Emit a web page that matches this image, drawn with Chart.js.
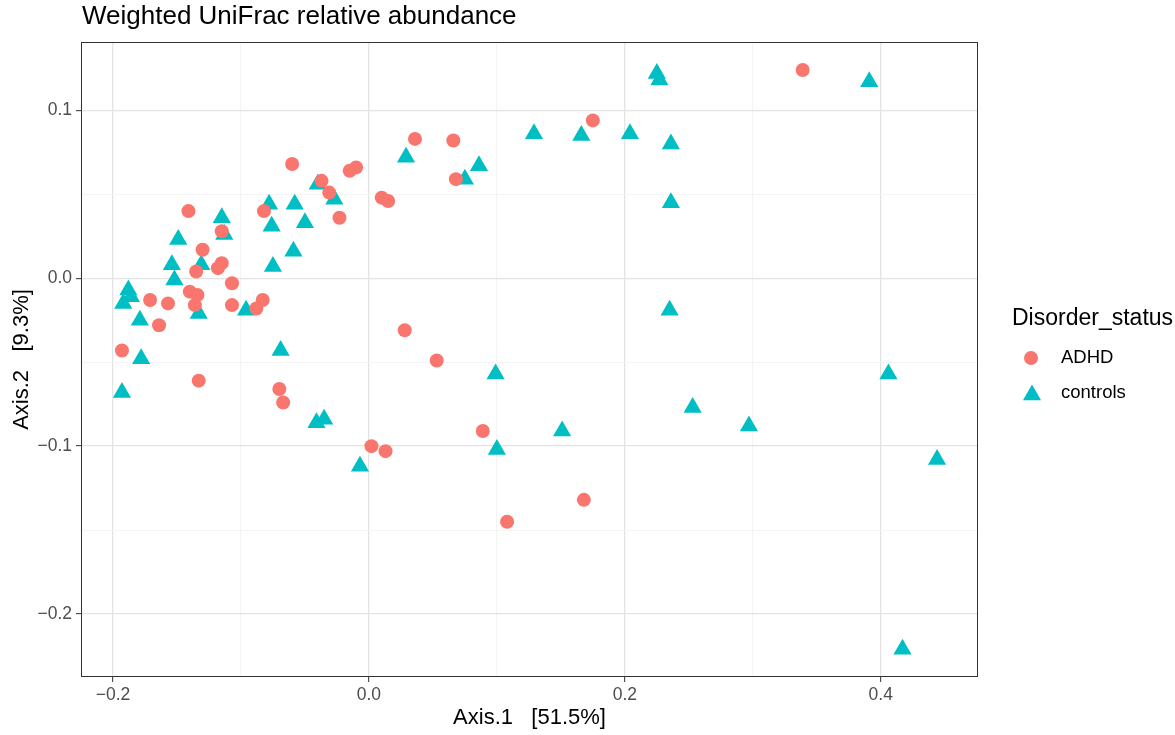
<!DOCTYPE html>
<html>
<head>
<meta charset="utf-8">
<title>Weighted UniFrac relative abundance</title>
<script src="https://cdn.jsdelivr.net/npm/chart.js@4.4.1/dist/chart.umd.min.js"></script>
<style>
  html, body { margin: 0; padding: 0; background: #ffffff; }
  #wrap { width: 1175px; height: 735px; }
</style>
</head>
<body>
<div id="wrap"><canvas id="plot-unifrac" width="1175" height="735"></canvas></div>
<script>
// PCoA coordinates
const adhdAxis1 = [0.339, 0.175, 0.036, 0.066, 0.068, -0.060, -0.037, -0.015, -0.010, -0.031,
  0.010, 0.015, -0.023, -0.141, -0.082, -0.115, -0.130, -0.115, -0.118, -0.135,
  -0.107, -0.140, -0.134, -0.136, -0.171, -0.157, -0.164, -0.193, -0.107, -0.083,
  -0.088, -0.133, -0.070, -0.067, 0.028, 0.053, 0.002, 0.013, 0.089, 0.168, 0.108];
const adhdAxis2 = [0.124, 0.094, 0.083, 0.082, 0.059, 0.068, 0.058, 0.064, 0.066, 0.051,
  0.048, 0.046, 0.036, 0.040, 0.040, 0.028, 0.017, 0.009, 0.006, 0.004,
  -0.003, -0.008, -0.010, -0.016, -0.013, -0.015, -0.028, -0.043, -0.016, -0.013,
  -0.018, -0.061, -0.066, -0.074, -0.031, -0.049, -0.100, -0.103, -0.091, -0.132, -0.145];

const controlsAxis1 = [0.225, 0.227, 0.391, 0.129, 0.166, 0.204, 0.236, 0.029, 0.086, 0.075,
  0.236, -0.040, -0.027, -0.078, -0.058, -0.115, -0.113, -0.076, -0.050, -0.149,
  -0.059, -0.075, -0.154, -0.131, -0.152, -0.188, -0.186, -0.192, -0.179, -0.133,
  -0.096, 0.235, -0.178, -0.069, -0.193, 0.099, 0.406, 0.253, -0.041, -0.035,
  0.297, 0.151, 0.100, -0.007, 0.444, 0.417];
const controlsAxis2 = [0.122, 0.118, 0.117, 0.086, 0.085, 0.086, 0.080, 0.072, 0.067, 0.059,
  0.045, 0.056, 0.047, 0.044, 0.044, 0.036, 0.026, 0.031, 0.033, 0.023,
  0.016, 0.007, 0.008, 0.008, -0.001, -0.007, -0.011, -0.015, -0.025, -0.021,
  -0.019, -0.019, -0.048, -0.043, -0.068, -0.057, -0.057, -0.077, -0.086, -0.084,
  -0.088, -0.091, -0.102, -0.112, -0.108, -0.221];

const groups = ["ADHD", "controls"];
const groupColors = ["#F8766D", "#00BFC4"];
const xTicks = [-0.2, 0.0, 0.2, 0.4];
const yTicks = [-0.2, -0.1, 0.0, 0.1];

const FONT = "'Liberation Sans', Arial, Helvetica, sans-serif";

function toPoints(xs, ys) {
  return xs.map((x, i) => ({ x: x, y: ys[i] }));
}

function isMajor(value, list) {
  return list.some((t) => Math.abs(t - value) < 1e-6);
}

function fmt(value) {
  if (Math.abs(value) < 1e-9) return "0.0";
  return value.toFixed(1).replace("-", "\u2212");
}

// panel border, title and legend drawn on the canvas
const decorations = {
  id: "decorations",
  afterDraw(chart) {
    const ctx = chart.ctx;
    const a = chart.chartArea;
    ctx.save();
    ctx.strokeStyle = "#333333";
    ctx.lineWidth = 1;
    ctx.strokeRect(Math.round(a.left) + 0.5, Math.round(a.top) + 0.5,
      Math.round(a.right - a.left) - 1, Math.round(a.bottom - a.top) - 1);

    ctx.fillStyle = "#000000";
    ctx.textAlign = "left";
    ctx.textBaseline = "alphabetic";
    ctx.font = "26px " + FONT;
    ctx.fillText("Weighted UniFrac relative abundance", 82, 24);

    ctx.font = "23px " + FONT;
    ctx.fillText("Disorder_status", 1012, 325);

    ctx.font = "18.5px " + FONT;
    ctx.textBaseline = "middle";
    ctx.fillText(groups[0], 1061, 358);
    ctx.fillText(groups[1], 1061, 393);

    ctx.fillStyle = groupColors[0];
    ctx.beginPath();
    ctx.arc(1031, 358, 7, 0, Math.PI * 2);
    ctx.fill();

    const r = 10.5;
    const cx = 1032, cy = 395;
    ctx.fillStyle = groupColors[1];
    ctx.beginPath();
    ctx.moveTo(cx, cy - r);
    ctx.lineTo(cx + r * Math.sqrt(3) / 2, cy + r / 2);
    ctx.lineTo(cx - r * Math.sqrt(3) / 2, cy + r / 2);
    ctx.closePath();
    ctx.fill();
    ctx.restore();
  }
};

function axisOptions(ticksList, step, min, max, titleText, isX) {
  return {
    type: "linear",
    min: min,
    max: max,
    border: { display: false },
    grid: {
      drawTicks: true,
      tickLength: 5,
      tickWidth: 1,
      color: (c) => isMajor(c.tick.value, ticksList) ? "#e3e3e3" : "#f1f1f1",
      lineWidth: (c) => isMajor(c.tick.value, ticksList) ? 1.3 : 0.8,
      tickColor: (c) => isMajor(c.tick.value, ticksList) ? "#333333" : "rgba(0,0,0,0)"
    },
    ticks: {
      stepSize: step,
      includeBounds: false,
      autoSkip: false,
      maxRotation: 0,
      padding: isX ? 3 : 4,
      color: "#4d4d4d",
      font: { family: FONT, size: 17.5 },
      callback: (value) => isMajor(value, ticksList) ? fmt(value) : ""
    },
    title: {
      display: true,
      text: titleText,
      color: "#000000",
      font: { family: FONT, size: 22 },
      padding: isX ? { top: 0, bottom: 4 } : { top: 9, bottom: 0 }
    },
    afterFit: (scale) => {
      if (isX) scale.height = 58; else scale.width = 81;
    }
  };
}

const chart = new Chart(document.getElementById("plot-unifrac"), {
  type: "scatter",
  data: {
    datasets: [
      {
        label: groups[0],
        data: toPoints(adhdAxis1, adhdAxis2),
        pointStyle: "circle",
        pointRadius: 7,
        pointHoverRadius: 7,
        borderWidth: 0,
        backgroundColor: groupColors[0],
        borderColor: groupColors[0]
      },
      {
        label: groups[1],
        data: toPoints(controlsAxis1, controlsAxis2),
        pointStyle: "triangle",
        pointRadius: 10.5,
        pointHoverRadius: 10.5,
        borderWidth: 0,
        backgroundColor: groupColors[1],
        borderColor: groupColors[1]
      }
    ]
  },
  options: {
    responsive: false,
    animation: false,
    devicePixelRatio: 1,
    layout: { padding: { left: 0, top: 42, right: 197, bottom: 0 } },
    plugins: {
      legend: { display: false },
      title: { display: false },
      tooltip: { enabled: false }
    },
    scales: {
      x: axisOptions(xTicks, 0.1, -0.225, 0.476, "Axis.1   [51.5%]", true),
      y: axisOptions(yTicks, 0.05, -0.2375, 0.1407, "Axis.2   [9.3%]", false)
    }
  },
  plugins: [decorations]
});
</script>
</body>
</html>
